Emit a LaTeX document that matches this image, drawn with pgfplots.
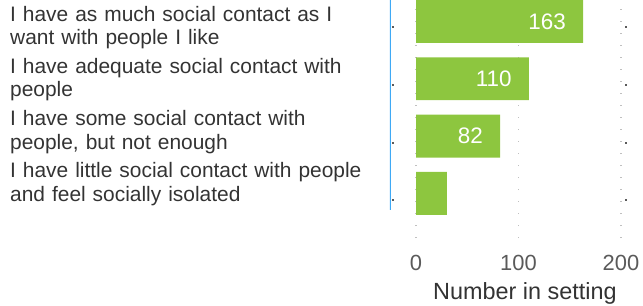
\documentclass[border=0pt]{standalone}
\usepackage{pgfplots}
\pgfplotsset{compat=1.18}
\usepackage{fontspec}
\setmainfont{Liberation Sans}
\definecolor{bargreen}{HTML}{8DC63F}
\definecolor{axisblue}{HTML}{3FA9F5}
\definecolor{labgray}{HTML}{333333}
\definecolor{tickgray}{HTML}{5A5A5A}
\definecolor{gridgray}{HTML}{C0C0C0}
\hyphenpenalty=10000
\exhyphenpenalty=10000
\begin{document}
\begin{tikzpicture}
\useasboundingbox (-390bp,-68bp) rectangle (253bp,238bp);
\begin{axis}[
  at={(0,0)}, anchor=south west,
  scale only axis,
  width=231bp, height=238bp,
  xmin=-25.4, xmax=200,
  ymin=-0.78, ymax=3.375,
  xbar, bar width=0.75,
  axis line style={draw=none},
  xtick={0,100,200},
  ytick={0.28,1.19,2.105,3.02},
  yticklabels={{I have little social contact with people and feel socially isolated},
               {I have some social contact with people, but not enough},
               {I have adequate social contact with people},
               {I have as much social contact as I want with people I like}},
  major tick length=0pt,
  extra y ticks={-0.115,0.880,1.892,2.904},
  extra y tick labels={},
  extra y tick style={major tick length=2bp, tick style={draw=tickgray, line width=2bp, xshift=4bp}},
  /pgf/number format/assume math mode=true,
  xticklabel style={font=\fontsize{22}{24}\selectfont, text=tickgray, inner sep=0pt, anchor=north, yshift=-17bp},
  yticklabel style={font=\fontsize{21}{23.5}\selectfont, text=labgray, anchor=west, align=left, text width=362bp, inner sep=0pt, xshift=-380bp, yshift=-7bp},
  xmajorgrids,
  grid style={gridgray, line width=1.4bp, dash pattern=on 1.4bp off 10.6bp},
  xlabel={Number in setting},
  xlabel style={font=\fontsize{23.5}{26}\selectfont, text=labgray, at={(axis description cs:0.584,0)}, anchor=north, inner sep=0pt, yshift=-44bp},
  point meta=explicit symbolic,
  nodes near coords,
  every node near coord/.append style={font=\fontsize{22.5}{24}\selectfont, text=white, anchor=east, xshift=-17bp, inner sep=0pt},
]
\addplot[fill=bargreen, draw=none] coordinates {
  (30,0) []
  (82,1) [82]
  (110,2) [110]
  (163,3) [163]
};
\draw[axisblue, line width=1.4bp] (axis cs:-25.4,3.375) -- (axis cs:-25.4,-0.29);
\end{axis}
\end{tikzpicture}
\end{document}
